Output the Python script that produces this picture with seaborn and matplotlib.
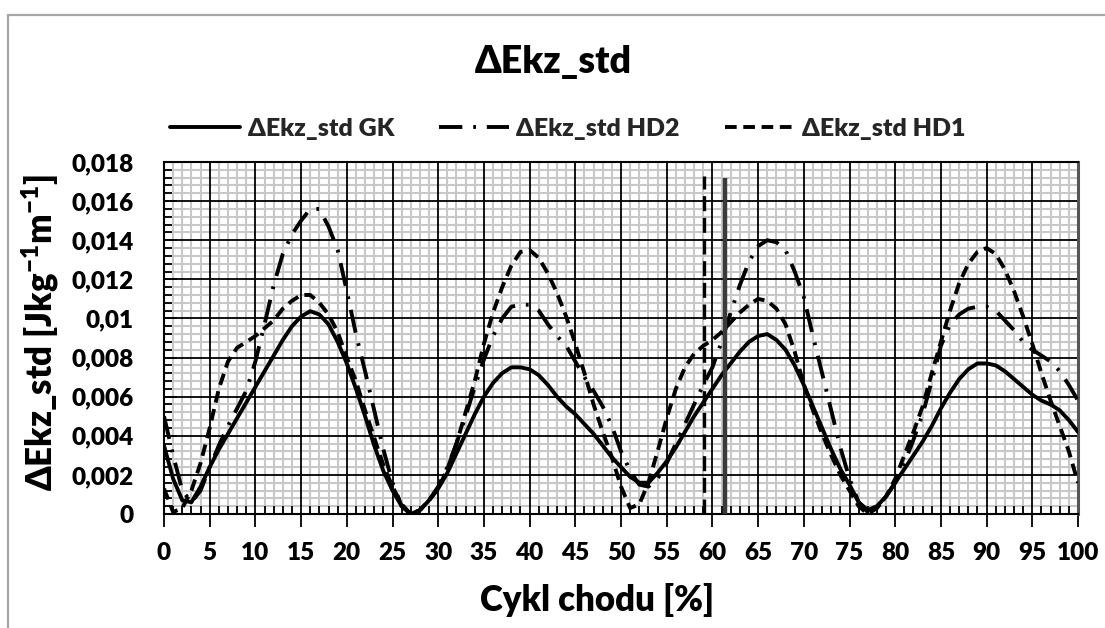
import matplotlib
matplotlib.use("Agg")
import matplotlib.pyplot as plt
from matplotlib.ticker import MultipleLocator, FixedLocator
from matplotlib.patches import Rectangle
import pandas as pd
import seaborn as sns

# Gait cycle [%] and standard deviation of kinetic energy change
cycle_pct = list(range(0, 101))

ekz_std_gk = [
    0.0035, 0.0018, 0.0007, 0.0006, 0.0014, 0.0024, 0.0033, 0.0041, 0.0049, 0.0057,
    0.0065, 0.0073, 0.0081, 0.0089, 0.0096, 0.0101, 0.01037, 0.0102, 0.0097, 0.0088,
    0.0077, 0.0064, 0.0050, 0.0035, 0.0022, 0.0012, 0.0004, 0.0000, 0.0002, 0.0007,
    0.0013, 0.0021, 0.0031, 0.0041, 0.0051, 0.0060, 0.0067, 0.0072, 0.0075, 0.0075,
    0.0074, 0.0071, 0.0066, 0.0060, 0.0055, 0.0051, 0.0046, 0.0041, 0.0035, 0.0029,
    0.0024, 0.0019, 0.0016, 0.0016, 0.0021, 0.0027, 0.0034, 0.0042, 0.0050, 0.0057,
    0.0064, 0.0071, 0.0077, 0.0083, 0.0088, 0.0091, 0.0092, 0.0089, 0.0084, 0.0076,
    0.0066, 0.0055, 0.0044, 0.0033, 0.0023, 0.0015, 0.0006, 0.0002, 0.0004, 0.0009,
    0.0016, 0.0023, 0.0030, 0.0037, 0.0045, 0.0054, 0.0062, 0.0069, 0.0074, 0.0077,
    0.0077, 0.0076, 0.0073, 0.0069, 0.0065, 0.0061, 0.0058, 0.0056, 0.0053, 0.0048,
    0.0042,
]

ekz_std_hd2 = [
    0.0050, 0.0030, 0.0012, 0.0006, 0.0012, 0.0024, 0.0035, 0.0045, 0.0054, 0.0063,
    0.0078, 0.0097, 0.0117, 0.0133, 0.0143, 0.0150, 0.0156, 0.0156, 0.0147, 0.0135,
    0.0114, 0.0092, 0.0073, 0.0053, 0.0033, 0.0016, 0.0004, 0.0000, 0.0002, 0.0007,
    0.0014, 0.0024, 0.0036, 0.0050, 0.0065, 0.0079, 0.0091, 0.0100, 0.0106, 0.0107,
    0.0107, 0.0104, 0.0097, 0.0091, 0.0086, 0.0078, 0.0070, 0.0063, 0.0055, 0.0045,
    0.0032, 0.0022, 0.0015, 0.0014, 0.0018, 0.0026, 0.0036, 0.0046, 0.0056, 0.0066,
    0.0075, 0.0088, 0.0103, 0.0117, 0.0129, 0.0137, 0.0140, 0.0139, 0.0135, 0.0124,
    0.0111, 0.0091, 0.0072, 0.0053, 0.0034, 0.0018, 0.0006, 0.0001, 0.0003, 0.0009,
    0.0016, 0.0026, 0.0038, 0.0051, 0.0068, 0.0086, 0.0097, 0.0102, 0.0105, 0.0106,
    0.0106, 0.0104, 0.0099, 0.0094, 0.0088, 0.0084, 0.0081, 0.0078, 0.0073, 0.0066,
    0.0058,
]

ekz_std_hd1 = [
    0.0013, 0.0001, 0.0003, 0.0012, 0.0026, 0.0044, 0.0064, 0.0078, 0.0085, 0.0088,
    0.0091, 0.0095, 0.0099, 0.0105, 0.0109, 0.0112, 0.0112, 0.0108, 0.0102, 0.0093,
    0.0080, 0.0068, 0.0053, 0.0039, 0.0025, 0.0014, 0.0005, 0.0000, 0.0002, 0.0007,
    0.0013, 0.0023, 0.0036, 0.0052, 0.0068, 0.0087, 0.0103, 0.0116, 0.0127, 0.0134,
    0.0135, 0.0131, 0.0123, 0.0113, 0.0101, 0.0087, 0.0072, 0.0056, 0.0042, 0.0029,
    0.0014, 0.0003, 0.0005, 0.0016, 0.0032, 0.0049, 0.0064, 0.0075, 0.0082, 0.0086,
    0.0089, 0.0093, 0.0098, 0.0103, 0.0107, 0.0110, 0.0109, 0.0105, 0.0097, 0.0083,
    0.0066, 0.0053, 0.0041, 0.0030, 0.0020, 0.0012, 0.0004, 0.0000, 0.0003, 0.0009,
    0.0018, 0.0030, 0.0042, 0.0055, 0.0072, 0.0088, 0.0104, 0.0118, 0.0128, 0.0134,
    0.0136, 0.0133, 0.0125, 0.0114, 0.0101, 0.0087, 0.0072, 0.0058, 0.0045, 0.0032,
    0.0016,
]

# Toe-off markers: HD1 (dashed) and GK (solid)
toe_off_x = [59.1, 61.4]
toe_off_top = [0.0173, 0.0172]

series_names = ["ΔEkz_std GK", "ΔEkz_std HD2", "ΔEkz_std HD1"]
x_ticks = list(range(0, 101, 5))
x_tick_labels = [str(v) for v in x_ticks]
y_ticks = [0, 0.002, 0.004, 0.006, 0.008, 0.01, 0.012, 0.014, 0.016, 0.018]
y_tick_labels = ["0", "0,002", "0,004", "0,006", "0,008", "0,01", "0,012",
                 "0,014", "0,016", "0,018"]

WEIGHT = "heavy"

sns.set_theme(style="white")
plt.rcParams["font.family"] = ["Lato", "DejaVu Sans"]
plt.rcParams["font.weight"] = WEIGHT
plt.rcParams["mathtext.fontset"] = "custom"
plt.rcParams["mathtext.rm"] = "Lato:heavy"
plt.rcParams["mathtext.it"] = "Lato:heavy"
plt.rcParams["mathtext.bf"] = "Lato:heavy"
plt.rcParams["mathtext.default"] = "rm"

W, H = 1105, 628
fig = plt.figure(figsize=(W / 100, H / 100), dpi=100)
fig.patch.set_facecolor("white")

# chart-area border
fig.add_artist(Rectangle((8 / W, -0.2), 1.2, 1.2 - 15 / H, transform=fig.transFigure,
                         fill=False, edgecolor="#a6a6a6", lw=1.6))

ax = fig.add_axes([164 / W, 1 - 514 / H, 914 / W, 352 / H])
ax.set_facecolor("white")

df = pd.DataFrame({
    "cycle": cycle_pct * 3,
    "value": ekz_std_gk + ekz_std_hd2 + ekz_std_hd1,
    "series": [series_names[0]] * 101 + [series_names[1]] * 101 + [series_names[2]] * 101,
})

lw = 2.8
dash_styles = {
    series_names[0]: "",
    series_names[1]: (6, 2.8, 0.7, 2.8),
    series_names[2]: (3.0, 1.7),
}
sns.lineplot(data=df, x="cycle", y="value", hue="series", style="series",
             palette=["black"] * 3, dashes=dash_styles, linewidth=lw,
             sort=False, legend=True, ax=ax, zorder=3)

# toe-off vertical markers
ax.vlines(toe_off_x[0], 0, toe_off_top[0], colors="black", lw=2.4,
          linestyles=(0, (4.5, 2.0)), zorder=3)
ax.vlines(toe_off_x[1], 0, toe_off_top[1], colors="#3a3a3a", lw=3.2, zorder=3)

ax.xaxis.set_major_locator(FixedLocator(x_ticks))
ax.set_xticks(x_ticks, x_tick_labels)
ax.xaxis.set_minor_locator(MultipleLocator(1))
ax.yaxis.set_major_locator(FixedLocator(y_ticks))
ax.set_yticks(y_ticks, y_tick_labels)
ax.yaxis.set_minor_locator(MultipleLocator(0.0004))
ax.set_xlim(0, 100)
ax.set_ylim(0, 0.018)

# light minor grid underneath, black major grid above it
ax.set_axisbelow(True)
ax.vlines(ax.xaxis.get_minorticklocs(), 0, 1, transform=ax.get_xaxis_transform(),
          colors="#c8c8c8", lw=1.5, zorder=0.1)
ax.hlines(ax.yaxis.get_minorticklocs(), 0, 1, transform=ax.get_yaxis_transform(),
          colors="#c8c8c8", lw=1.5, zorder=0.1)
ax.grid(which="major", color="black", lw=1.3)
ax.grid(which="minor", visible=False)
ax.set_xlim(0, 100)
ax.set_ylim(0, 0.018)

ax.tick_params(axis="x", which="major", direction="out", length=9, width=1.3,
               color="black", pad=11, labelsize=17.5, labelcolor="black")
ax.tick_params(axis="x", which="minor", direction="in", length=6, width=1.3,
               color="black")
ax.tick_params(axis="y", which="major", direction="in", length=9, width=1.3,
               color="black", pad=22, labelsize=17.5, labelcolor="black")
ax.tick_params(axis="y", which="minor", direction="in", length=6, width=1.3,
               color="black")
ax.tick_params(left=True, bottom=True, top=False, right=False)
ax.tick_params(which="minor", left=True, bottom=True, top=False, right=False)
for lab in ax.get_xticklabels() + ax.get_yticklabels():
    lab.set_fontweight(WEIGHT)

for side in ["left", "bottom", "top"]:
    ax.spines[side].set_color("black")
    ax.spines[side].set_linewidth(1.5)
ax.spines["right"].set_color("#555555")
ax.spines["right"].set_linewidth(2.2)

ax.set_xlabel("Cykl chodu [%]", fontsize=25, fontweight=WEIGHT, color="black")
ax.xaxis.label.set_va("center")
ax.xaxis.set_label_coords((597 - 164) / 914, -(600 - 514) / 352)
ax.set_ylabel("ΔEkz_std [Jkg$^{-1}$m$^{-1}$]", fontsize=25, fontweight=WEIGHT,
              color="black")
ax.yaxis.label.set_va("center")
ax.yaxis.set_label_coords((40 - 164) / 914, (514 - 333) / 352)

fig.text(553 / W, 1 - 62 / H, "ΔEkz_std", ha="center", va="center",
         fontsize=27, fontweight=WEIGHT, color="black")

handles, labels = ax.get_legend_handles_labels()
ax.get_legend().remove()
fig.legend(handles, labels, loc="center", bbox_to_anchor=(568 / W, 1 - 129 / H),
           ncol=3, frameon=False, handlelength=2.8, handletextpad=0.3,
           columnspacing=1.8, prop={"weight": WEIGHT, "size": 18})

fig.savefig("out.png", dpi=100, facecolor="white")
